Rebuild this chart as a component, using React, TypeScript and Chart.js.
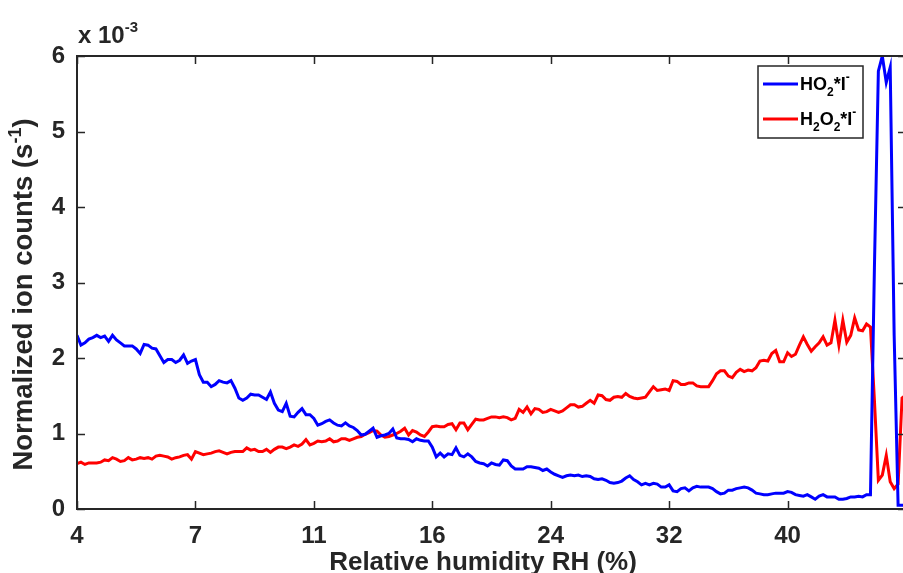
import React, { useEffect, useRef } from "react";
import { Chart, registerables } from "chart.js";

Chart.register(...registerables);

// x tick labels (relative humidity, %), placed at equally spaced ticks
const tickLabels = ["4", "7", "11", "16", "24", "32", "40"];
// samples between two neighbouring RH ticks
const samplesPerTick = 30;

// Normalized ion counts (x 10^-3 s^-1)
const ho2 = [
  2.30, 2.17, 2.20, 2.25, 2.27, 2.30, 2.27, 2.29, 2.22, 2.30,
  2.24, 2.20, 2.16, 2.16, 2.16, 2.12, 2.06, 2.18, 2.17, 2.13,
  2.12, 2.03, 1.94, 1.98, 1.98, 1.94, 1.97, 2.04, 1.93, 1.96,
  1.98, 1.78, 1.68, 1.68, 1.62, 1.65, 1.70, 1.68, 1.67, 1.70,
  1.60, 1.47, 1.44, 1.47, 1.52, 1.51, 1.51, 1.48, 1.45, 1.55,
  1.40, 1.31, 1.29, 1.40, 1.23, 1.22, 1.28, 1.33, 1.25, 1.25,
  1.20, 1.11, 1.13, 1.16, 1.18, 1.14, 1.11, 1.10, 1.14, 1.10,
  1.08, 1.04, 0.98, 0.99, 1.03, 1.07, 0.95, 0.97, 0.98, 1.00,
  1.06, 0.94, 0.93, 0.93, 0.92, 0.89, 0.93, 0.91, 0.90, 0.90,
  0.82, 0.69, 0.74, 0.69, 0.73, 0.72, 0.81, 0.71, 0.69, 0.73,
  0.69, 0.63, 0.61, 0.60, 0.57, 0.61, 0.59, 0.58, 0.65, 0.64,
  0.57, 0.53, 0.53, 0.53, 0.56, 0.56, 0.55, 0.54, 0.51, 0.53,
  0.49, 0.46, 0.44, 0.42, 0.44, 0.45, 0.44, 0.45, 0.43, 0.44,
  0.43, 0.40, 0.39, 0.40, 0.38, 0.35, 0.34, 0.35, 0.37, 0.41,
  0.44, 0.39, 0.36, 0.32, 0.34, 0.32, 0.34, 0.33, 0.29, 0.29,
  0.32, 0.24, 0.23, 0.27, 0.28, 0.24, 0.28, 0.30, 0.29, 0.29,
  0.29, 0.27, 0.23, 0.20, 0.21, 0.25, 0.25, 0.27, 0.28, 0.29,
  0.28, 0.25, 0.21, 0.20, 0.19, 0.19, 0.20, 0.21, 0.21, 0.21,
  0.23, 0.22, 0.19, 0.18, 0.17, 0.19, 0.16, 0.13, 0.17, 0.19,
  0.16, 0.16, 0.16, 0.13, 0.13, 0.14, 0.16, 0.16, 0.17, 0.16,
  0.19, 0.19, 3.20, 5.80, 6.00, 5.65, 5.85, 2.30, 0.05, 0.05,
  0.05,
];

const h2o2 = [
  0.60, 0.62, 0.59, 0.61, 0.61, 0.61, 0.62, 0.65, 0.64, 0.68,
  0.66, 0.63, 0.64, 0.68, 0.65, 0.66, 0.68, 0.67, 0.68, 0.66,
  0.70, 0.71, 0.70, 0.69, 0.66, 0.68, 0.69, 0.71, 0.72, 0.66,
  0.76, 0.74, 0.72, 0.73, 0.74, 0.76, 0.77, 0.75, 0.73, 0.75,
  0.76, 0.76, 0.76, 0.81, 0.78, 0.79, 0.76, 0.76, 0.79, 0.75,
  0.79, 0.82, 0.82, 0.80, 0.82, 0.85, 0.83, 0.86, 0.92, 0.85,
  0.87, 0.90, 0.89, 0.90, 0.93, 0.89, 0.90, 0.93, 0.93, 0.91,
  0.93, 0.95, 0.96, 0.99, 1.01, 1.04, 1.03, 0.98, 0.95, 0.96,
  0.98, 1.00, 1.03, 1.07, 0.98, 1.04, 1.02, 0.98, 0.96, 1.02,
  1.09, 1.10, 1.09, 1.09, 1.12, 1.13, 1.05, 1.14, 1.14, 1.05,
  1.12, 1.19, 1.18, 1.18, 1.20, 1.22, 1.22, 1.21, 1.22, 1.21,
  1.18, 1.20, 1.32, 1.28, 1.35, 1.26, 1.33, 1.32, 1.28, 1.29,
  1.32, 1.30, 1.28, 1.30, 1.34, 1.38, 1.38, 1.35, 1.36, 1.40,
  1.44, 1.40, 1.51, 1.50, 1.45, 1.44, 1.48, 1.49, 1.48, 1.53,
  1.49, 1.47, 1.46, 1.47, 1.48, 1.55, 1.62, 1.57, 1.58, 1.59,
  1.57, 1.70, 1.69, 1.65, 1.65, 1.67, 1.67, 1.63, 1.62, 1.62,
  1.62, 1.70, 1.79, 1.83, 1.83, 1.76, 1.74, 1.81, 1.85, 1.82,
  1.84, 1.83, 1.87, 1.96, 1.97, 1.96, 2.06, 2.10, 1.95, 1.95,
  2.07, 2.02, 2.05, 2.17, 2.28, 2.18, 2.09, 2.15, 2.20, 2.28,
  2.17, 2.20, 2.50, 2.17, 2.50, 2.21, 2.30, 2.53, 2.37, 2.36,
  2.45, 2.41, 1.44, 0.38, 0.45, 0.71, 0.36, 0.27, 0.33, 1.47,
  1.51,
];

const yTicks = ["0", "1", "2", "3", "4", "5", "6"];

type Part = { t: string; k?: "sub" | "sup" };
const legendHO2: Part[] = [{ t: "HO" }, { t: "2", k: "sub" }, { t: "*I" }, { t: "-", k: "sup" }];
const legendH2O2: Part[] = [{ t: "H" }, { t: "2", k: "sub" }, { t: "O" }, { t: "2", k: "sub" }, { t: "*I" }, { t: "-", k: "sup" }];
const yTitle: Part[] = [{ t: "Normalized ion counts (s" }, { t: "-1", k: "sup" }, { t: ")" }];
const xTitle = "Relative humidity RH (%)";
const exponentLabel: Part[] = [{ t: "x 10" }, { t: "-3", k: "sup" }];

const FAMILY = '"Liberation Sans", Arial, Helvetica, sans-serif';
const INK = "#262626";

function richWidth(ctx: CanvasRenderingContext2D, parts: Part[], size: number, small: number) {
  let w = 0;
  for (const p of parts) {
    ctx.font = `bold ${p.k ? small : size}px ${FAMILY}`;
    w += ctx.measureText(p.t).width;
  }
  return w;
}

function drawRich(
  ctx: CanvasRenderingContext2D,
  parts: Part[],
  x: number,
  baseline: number,
  size: number,
  small: number,
  subOff: number,
  supOff: number
) {
  let cx = x;
  ctx.textAlign = "left";
  ctx.textBaseline = "alphabetic";
  for (const p of parts) {
    ctx.font = `bold ${p.k ? small : size}px ${FAMILY}`;
    const dy = p.k === "sub" ? subOff : p.k === "sup" ? -supOff : 0;
    ctx.fillText(p.t, cx, baseline + dy);
    cx += ctx.measureText(p.t).width;
  }
}

const boxPlugin = {
  id: "matlabBox",
  afterDatasetsDraw(chart: any) {
    const { ctx, chartArea } = chart;
    const { left, right, top, bottom } = chartArea;
    const xs = chart.scales.x;
    const ys = chart.scales.y;
    ctx.save();
    ctx.strokeStyle = INK;
    ctx.lineWidth = 2;
    ctx.strokeRect(left, top, right - left, bottom - top);
    const L = 8;
    ctx.beginPath();
    xs.ticks.forEach((t: any) => {
      const px = Math.round(xs.getPixelForValue(t.value)) + 0.5;
      ctx.moveTo(px, bottom);
      ctx.lineTo(px, bottom - L);
      ctx.moveTo(px, top);
      ctx.lineTo(px, top + L);
    });
    ys.ticks.forEach((t: any) => {
      const py = Math.round(ys.getPixelForValue(t.value)) + 0.5;
      ctx.moveTo(left, py);
      ctx.lineTo(left + L, py);
      ctx.moveTo(right, py);
      ctx.lineTo(right - L, py);
    });
    ctx.lineWidth = 1.5;
    ctx.stroke();

    // legend
    const bx = right - 148;
    const by = top + 10;
    const bw = 105;
    const bh = 72;
    ctx.fillStyle = "#ffffff";
    ctx.fillRect(bx, by, bw, bh);
    ctx.lineWidth = 1.5;
    ctx.strokeStyle = INK;
    ctx.strokeRect(bx, by, bw, bh);
    const rows = [
      { parts: legendHO2, color: chart.data.datasets[0].borderColor, ly: by + 18 },
      { parts: legendH2O2, color: chart.data.datasets[1].borderColor, ly: by + 53 },
    ];
    rows.forEach((r) => {
      ctx.strokeStyle = r.color;
      ctx.lineWidth = 3;
      ctx.beginPath();
      ctx.moveTo(bx + 5, r.ly);
      ctx.lineTo(bx + 40, r.ly);
      ctx.stroke();
      ctx.fillStyle = "#000000";
      drawRich(ctx, r.parts, bx + 42, r.ly + 6, 18, 12, 6, 9);
    });
    ctx.restore();
  },
  afterDraw(chart: any) {
    const { ctx, chartArea } = chart;
    const { left, top, bottom } = chartArea;
    ctx.save();
    ctx.fillStyle = INK;
    // exponent label
    drawRich(ctx, exponentLabel, left + 1, top - 13, 24, 15, 0, 11);
    // x title
    ctx.font = `bold 26px ${FAMILY}`;
    ctx.textAlign = "center";
    ctx.textBaseline = "alphabetic";
    ctx.fillText(xTitle, left + 406, bottom + 61);
    // y title
    const w = richWidth(ctx, yTitle, 27.5, 18);
    ctx.translate(32, (top + bottom) / 2 + 12);
    ctx.rotate(-Math.PI / 2);
    drawRich(ctx, yTitle, -w / 2, 0, 27.5, 18, 0, 11);
    ctx.restore();
  },
};

export default function App() {
  const ref = useRef<HTMLCanvasElement | null>(null);

  useEffect(() => {
    document.body.style.margin = "0";
    document.body.style.overflow = "hidden";
    const canvas = ref.current;
    if (!canvas) return;
    const toPoints = (arr: number[]) => arr.map((v, i) => ({ x: i / samplesPerTick, y: v }));
    const tickFont = { family: FAMILY, size: 24, weight: "bold" as const };
    const chart = new Chart(canvas, {
      type: "line",
      data: {
        datasets: [
          {
            label: "HO2*I-",
            data: toPoints(ho2),
            borderColor: "#0000ff",
            borderWidth: 3,
            pointRadius: 0,
            tension: 0,
            fill: false,
          },
          {
            label: "H2O2*I-",
            data: toPoints(h2o2),
            borderColor: "#ff0000",
            borderWidth: 3,
            pointRadius: 0,
            tension: 0,
            fill: false,
          },
        ],
      },
      options: {
        animation: false,
        responsive: false,
        devicePixelRatio: 1,
        parsing: false as any,
        layout: { padding: { top: 56, right: 6, left: 0, bottom: 0 } },
        plugins: { legend: { display: false }, tooltip: { enabled: false } },
        scales: {
          x: {
            type: "linear",
            min: 0,
            max: tickLabels.length,
            grid: { display: false, drawTicks: false },
            border: { display: false },
            ticks: {
              stepSize: 1,
              autoSkip: false,
              maxRotation: 0,
              padding: 13,
              color: INK,
              font: tickFont,
              callback: (v: any) => tickLabels[Number(v)] ?? "",
            },
            afterFit: (s: any) => {
              s.height = 64;
              s.paddingLeft = 0;
              s.paddingRight = 0;
            },
          },
          y: {
            type: "linear",
            min: 0,
            max: yTicks.length - 1,
            grid: { display: false, drawTicks: false },
            border: { display: false },
            ticks: {
              stepSize: 1,
              padding: 12,
              color: INK,
              font: tickFont,
              callback: (v: any) => yTicks[Number(v)] ?? "",
            },
            afterFit: (s: any) => {
              s.width = 77;
              s.paddingTop = 0;
              s.paddingBottom = 0;
            },
          },
        },
      },
      plugins: [boxPlugin],
    });
    return () => chart.destroy();
  }, []);

  return (
    <div style={{ width: 903, height: 573, overflow: "hidden", background: "#fff" }}>
      <div style={{ width: 912, height: 573 }}>
        <canvas ref={ref} width={912} height={573} style={{ display: "block", width: 912, height: 573 }} />
      </div>
    </div>
  );
}
